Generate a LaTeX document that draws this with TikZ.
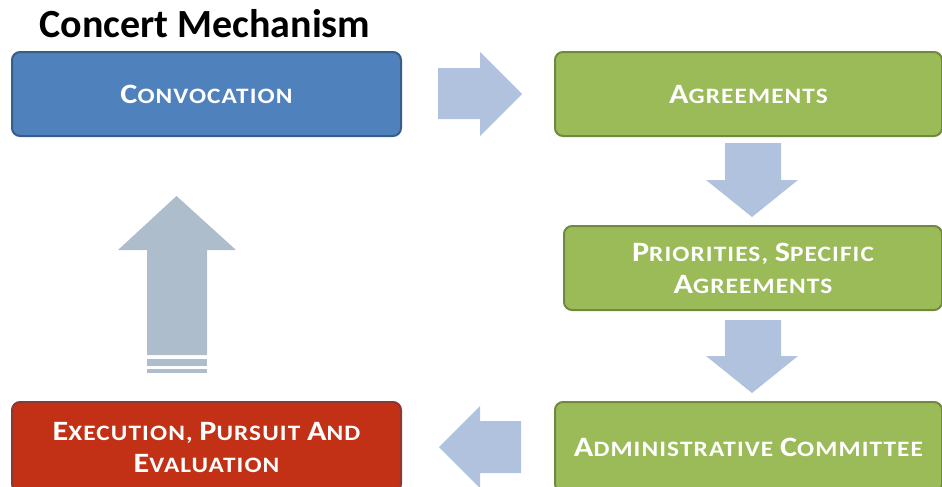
\documentclass[tikz,border=0pt]{standalone}
\usepackage{fontspec}
\setmainfont{Carlito}
\newfontfamily\stagefont[FakeStretch=1.15,LetterSpace=5]{Carlito}
\usetikzlibrary{positioning}

\definecolor{convfill}{HTML}{4F81BD}
\definecolor{convline}{HTML}{385D8A}
\definecolor{agrfill}{HTML}{9BBB59}
\definecolor{agrline}{HTML}{71893F}
\definecolor{execfill}{HTML}{C23116}
\definecolor{execline}{HTML}{8C3836}
\definecolor{flowblue}{HTML}{B1C2DE}
\definecolor{flowgrey}{HTML}{AEBDCB}

\newcommand{\capbig}[1]{{\fontsize{21}{24}\selectfont #1}}

\begin{document}
\begin{tikzpicture}[x=0.75pt,y=-0.75pt,
	stage/.style={draw, line width=1.5pt, rounded corners=6pt, text=white,
		font=\stagefont\bfseries\fontsize{16.5}{24}\selectfont, align=center,
		minimum height=63pt, inner sep=0pt},
	blockarrow/.style={fill=flowblue, draw=none}]
	\useasboundingbox (0,0) rectangle (942,486);
	\clip (0,0) rectangle (942,486);

	% title
	\node [font=\bfseries\fontsize{30}{34}\selectfont] (title) at (205,24) {Concert Mechanism};

	% boxes
	\node [stage, fill=convfill, draw=convline, minimum width=291.75pt] (conv) at (206.5,94)
		{\capbig{C}ONVOCATION};
	\node [stage, fill=agrfill, draw=agrline, minimum width=290.25pt] (agree) at (748.5,94)
		{\capbig{A}GREEMENTS};
	\node [stage, fill=agrfill, draw=agrline, minimum width=283.5pt] (prio) at (753,268)
		{\capbig{P}RIORITIES, \capbig{S}PECIFIC\\\capbig{A}GREEMENTS};
	\node [stage, fill=agrfill, draw=agrline, minimum width=290.25pt, minimum height=67.5pt] (admin) at (748.5,447)
		{\capbig{A}DMINISTRATIVE \capbig{C}OMMITTEE};
	\node [stage, fill=execfill, draw=execline, minimum width=291.75pt, minimum height=67.5pt] (exec) at (206.5,447)
		{\capbig{E}XECUTION, \capbig{P}URSUIT \capbig{A}ND\\\capbig{E}VALUATION};

	% block arrows
	\fill [blockarrow] (438,68) -- (480,68) -- (480,52) -- (522,94) -- (480,136) -- (480,119) -- (438,119) -- cycle;
	\fill [blockarrow] (725,143) -- (781,143) -- (781,180) -- (798,180) -- (752,217) -- (706,180) -- (725,180) -- cycle;
	\fill [blockarrow] (725,320) -- (781,320) -- (781,356) -- (798,356) -- (752,393) -- (706,356) -- (725,356) -- cycle;
	\fill [blockarrow] (521,421) -- (480,421) -- (480,406) -- (439,447) -- (480,488) -- (480,473) -- (521,473) -- cycle;

	% striped arrow
	\fill [flowgrey] (147,355) -- (147,250) -- (118,250) -- (176.5,196) -- (236,250) -- (207,250) -- (207,355) -- cycle;
	\fill [flowgrey] (147,359) rectangle (207,366);
	\fill [flowgrey] (147,369) rectangle (207,373);
\end{tikzpicture}
\end{document}
